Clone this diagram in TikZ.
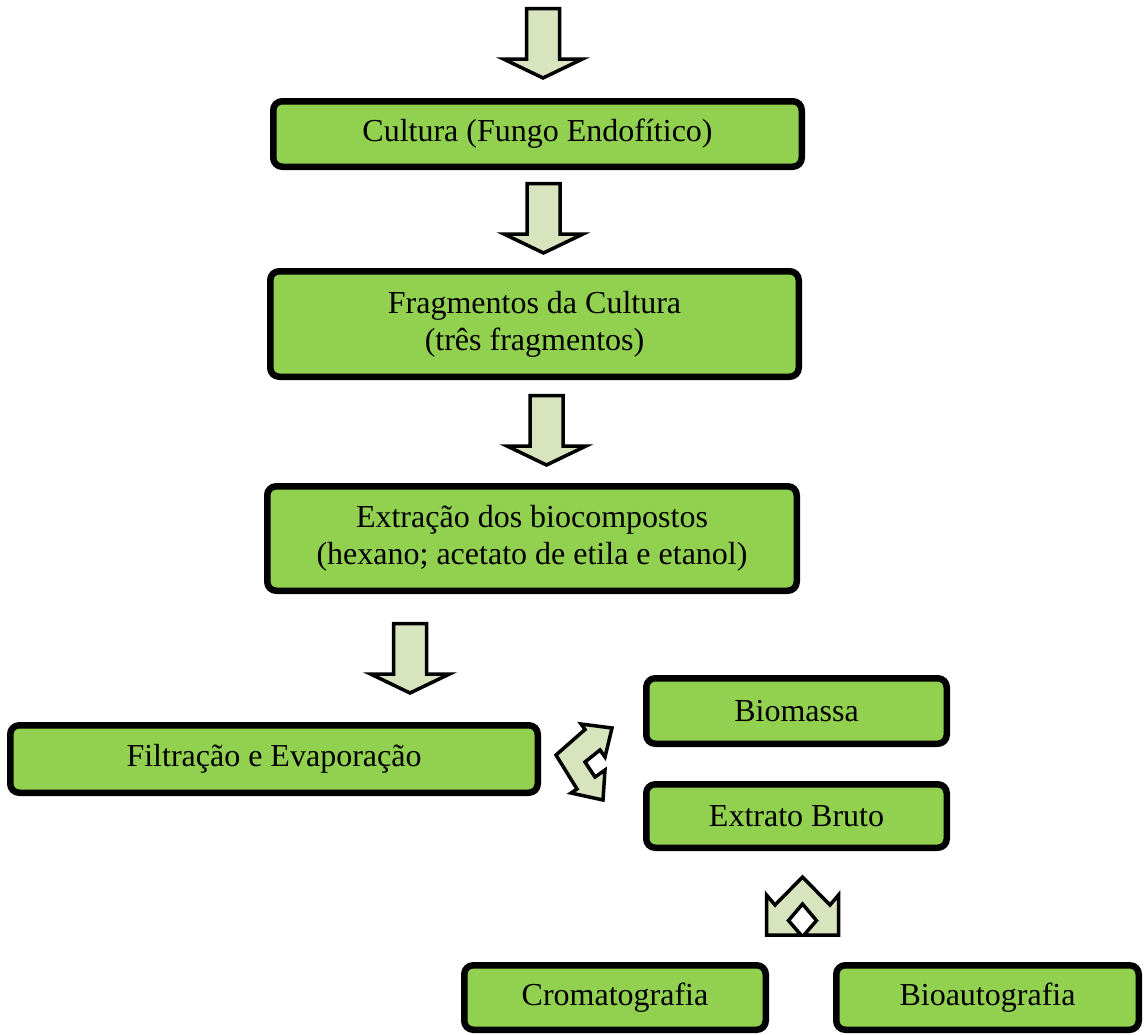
\documentclass[tikz,border=0pt]{standalone}
\usepackage{fontspec}
\setmainfont{Liberation Serif}
\definecolor{boxgreen}{HTML}{92D050}
\definecolor{arrowfill}{HTML}{D7E4BD}
\begin{document}
\begin{tikzpicture}[x=1pt,y=-1pt,
  box/.style={draw=black, line width=6.5pt, rounded corners=9pt, fill=boxgreen,
    align=center, inner sep=0pt, font=\fontsize{32}{37}\selectfont},
  blockarrow/.style={draw=black, line width=3.5pt, fill=arrowfill, line join=miter},
  downarrow/.pic={\draw[blockarrow] (-16.5,1.5) -- (16.5,1.5) -- (16.5,52) -- (39.5,52)
      -- (0,71) -- (-39.5,52) -- (-16.5,52) -- cycle;}]
\useasboundingbox (0,0) rectangle (1145,1034);

% boxes
\node[box, minimum width=528.5pt, minimum height=65.5pt] (cult) at (537.5,134) {Cultura (Fungo Endofítico)};
\node[box, minimum width=528.5pt, minimum height=105.5pt] (frag) at (534.5,324) {Fragmentos da Cultura\\(três fragmentos)};
\node[box, minimum width=529.5pt, minimum height=104.5pt] (extr) at (532,538.5) {Extração dos biocompostos\\(hexano; acetato de etila e etanol)};
\node[box, minimum width=527.5pt, minimum height=67.5pt] (filt) at (274,759) {Filtração e Evaporação};
\node[box, minimum width=300.5pt, minimum height=65.5pt] (biom) at (796.5,711) {Biomassa};
\node[box, minimum width=300.5pt, minimum height=63.5pt] (bruto) at (796.5,816) {Extrato Bruto};
\node[box, minimum width=301.5pt, minimum height=64.5pt] (crom) at (615,997.5) {Cromatografia};
\node[box, minimum width=302.5pt, minimum height=64.5pt] (bioa) at (987.5,997.5) {Bioautografia};

% down block arrows
\pic at (543,7) {downarrow};
\pic at (543.5,182) {downarrow};
\pic at (546.5,394) {downarrow};
\pic at (410,622) {downarrow};

% bent double arrow between Filtração and Biomassa/Extrato Bruto
\draw[blockarrow] (556,755) -- (585,729.5) -- (581,724) -- (612,728) -- (605,757)
  -- (600,750) -- (585,762) -- (595,777) -- (605,770) -- (603,800) -- (571,793)
  -- (577,789) -- cycle;

% split arrow below Extrato Bruto
\draw[blockarrow] (802.5,877) -- (830,905) -- (838.5,895) -- (838.5,935) -- (804,935)
  -- (816.5,920.5) -- (802.5,904) -- (788.5,920.5) -- (801,935) -- (766.5,935)
  -- (766.5,895) -- (775,905) -- cycle;
\end{tikzpicture}
\end{document}
